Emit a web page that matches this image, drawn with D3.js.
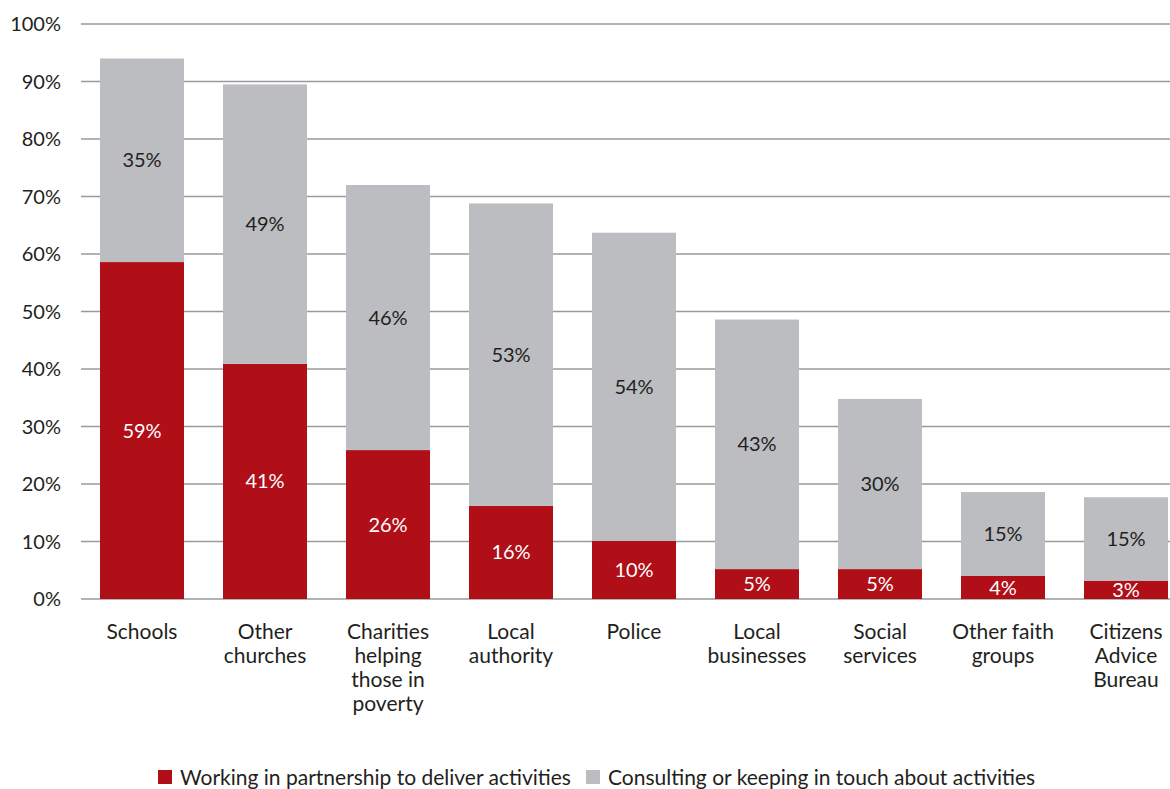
<!DOCTYPE html>
<html><head><meta charset="utf-8">
<script src="https://cdn.jsdelivr.net/npm/d3@7"></script>
<style>body{margin:0;background:#fff;} svg{display:block;font-family:Lato,"Open Sans",sans-serif;}</style>
</head><body><svg id="c" width="1170" height="789"></svg>
<script>
const categories = [["Schools"],["Other","churches"],["Charities","helping","those in","poverty"],["Local","authority"],["Police"],["Local","businesses"],["Social","services"],["Other faith","groups"],["Citizens","Advice","Bureau"]];
const partnership = [58.6, 40.9, 25.9, 16.2, 10.1, 5.2, 5.2, 4.0, 3.2];
const consulting = [35.4, 48.6, 46.1, 52.6, 53.6, 43.4, 29.6, 14.6, 14.5];
const yTicks = [0,10,20,30,40,50,60,70,80,90,100];
const seriesNames = ["Working in partnership to deliver activities","Consulting or keeping in touch about activities"];
const colors = ["#b00f18","#bcbdc0"];

const svg = d3.select("#c");
const y = d3.scaleLinear().domain([0,100]).range([599,24]);
const x = d3.scaleBand().domain(d3.range(categories.length)).range([80.5,1187.5]).paddingInner(0.317).paddingOuter(0.1585);

// grid
svg.append("g").selectAll("line").data(yTicks).join("line")
  .attr("x1",81).attr("x2",1170).attr("y1",d=>y(d)).attr("y2",d=>y(d))
  .attr("stroke","#9a9a9a").attr("stroke-width",1.6);
svg.append("g").selectAll("text").data(yTicks).join("text")
  .attr("x",61).attr("y",d=>y(d)+7).attr("text-anchor","end")
  .attr("font-size",20).attr("fill","#231f20").text(d=>d+"%");

const stack = categories.map((c,i)=>[[0,partnership[i]],[partnership[i],partnership[i]+consulting[i]]]);
const g = svg.append("g");
stack.forEach((segs,i)=>{
  segs.forEach((s,k)=>{
    g.append("rect").attr("x",x(i)).attr("width",x.bandwidth())
      .attr("y",y(s[1])).attr("height",y(s[0])-y(s[1])).attr("fill",colors[k]);
    const v = k===0?partnership[i]:consulting[i];
    g.append("text").attr("x",x(i)+x.bandwidth()/2).attr("y",(y(s[0])+y(s[1]))/2+7)
      .attr("text-anchor","middle").attr("font-size",20)
      .attr("fill",k===0?"#ffffff":"#231f20").text(Math.round(v)+"%");
  });
  const t = g.append("text").attr("text-anchor","middle").attr("font-size",21).attr("fill","#231f20");
  categories[i].forEach((ln,j)=>{
    t.append("tspan").attr("x",x(i)+x.bandwidth()/2).attr("y",639+j*24).text(ln);
  });
});

// legend
const lg = svg.append("g");
const legX = [158,586];
seriesNames.forEach((n,k)=>{
  lg.append("rect").attr("x",legX[k]).attr("y",770).attr("width",14).attr("height",14).attr("fill",colors[k]);
  lg.append("text").attr("x",legX[k]+22).attr("y",785).attr("font-size",21).attr("fill","#231f20").text(n);
});
</script></body></html>
